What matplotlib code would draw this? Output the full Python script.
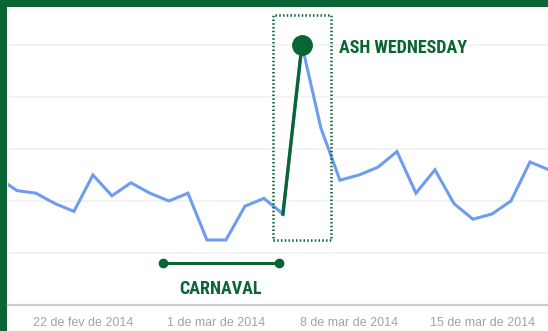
import numpy as np
import matplotlib
matplotlib.use("Agg")
import matplotlib.pyplot as plt
from matplotlib.patches import Rectangle

# daily search interest (Google Trends style, 0-100), 17 Feb - 18 Mar 2014
dates = np.arange(np.datetime64("2014-02-17"), np.datetime64("2014-03-19"))
interest = [49, 44, 43, 39, 36, 50, 42, 47, 43, 40, 43, 25, 25, 38, 41, 35,
            100, 68, 48, 50, 53, 59, 43, 52, 39, 33, 35, 40, 55, 52]

tick_dates = ["2014-02-22", "2014-03-01", "2014-03-08", "2014-03-15"]
tick_labels = ["22 de fev de 2014", "1 de mar de 2014", "8 de mar de 2014", "15 de mar de 2014"]

ash_wednesday = "2014-03-05"
carnaval_days = ("2014-02-26", "2014-03-04")

blue = "#6e9cf0"
green = "#0b6433"
label_font = dict(color=green, fontsize=13, fontweight="bold", fontstretch="condensed",
                  family=["Roboto Condensed", "DejaVu Sans"])


def day(d, hours=0.0):
    return (np.datetime64(d) - dates[0]) / np.timedelta64(1, "D") + hours / 24


x = day(dates[0]) + np.arange(len(dates)) + 0.5
ia = int(day(ash_wednesday))

fig = plt.figure(figsize=(5.48, 3.31), dpi=100, facecolor=green)
fig.patches.append(Rectangle((7 / 548, 0), 1, (331 - 7) / 331, transform=fig.transFigure,
                             facecolor="white", edgecolor="none", zorder=-5))
ax = fig.add_axes([8 / 548, (331 - 305) / 331, 540 / 548, (305 - 7) / 331])
ax.set_facecolor("white")

ax.plot(x, interest, color=blue, lw=2.2, solid_joinstyle="miter", zorder=3)
ax.plot(x[ia - 1:ia + 1], interest[ia - 1:ia + 1], color=green, lw=2.4, zorder=4)
ax.plot(x[ia], interest[ia], "o", color=green, ms=14, zorder=5)

# dotted box around Ash Wednesday
ax.add_patch(Rectangle((x[ia] - 1.53, 25), 3.06, 86.5, fill=False, edgecolor=green,
                       lw=1.8, linestyle=(0, (0.6, 0.9)), zorder=6, clip_on=False))
ax.text(x[ia] + 1.95, 99, "ASH WEDNESDAY", va="center", ha="left", **label_font)

# carnaval span
c0, c1 = day(carnaval_days[0], 4), day(carnaval_days[1], 7)
ax.plot([c0, c1], [16.2, 16.2], color=green, lw=2.2, marker="o", ms=6, zorder=4)
ax.text((c0 + c1) / 2, 6.0, "CARNAVAL", va="center", ha="center", **label_font)

ax.set_xlim(day(ash_wednesday, 12) - 15.47, day(ash_wednesday, 12) + 12.95)
ax.set_ylim(0, 114.6)
ax.set_yticks([0, 20, 40, 60, 80, 100])
ax.set_yticklabels([])
ax.set_xticks([day(d) for d in tick_dates])
ax.set_xticklabels(tick_labels, color="#a3a3a3", fontsize=9,
                   family=["Liberation Sans", "DejaVu Sans"])
ax.tick_params(axis="both", length=0)
ax.tick_params(axis="x", pad=9)
ax.grid(axis="y", color="#f1f1f1", lw=1.2, zorder=0)
for s in ["top", "right", "left"]:
    ax.spines[s].set_visible(False)
ax.spines["bottom"].set_color("#cccccc")
ax.spines["bottom"].set_linewidth(1.6)

fig.savefig("out.png", dpi=100, facecolor=green)
